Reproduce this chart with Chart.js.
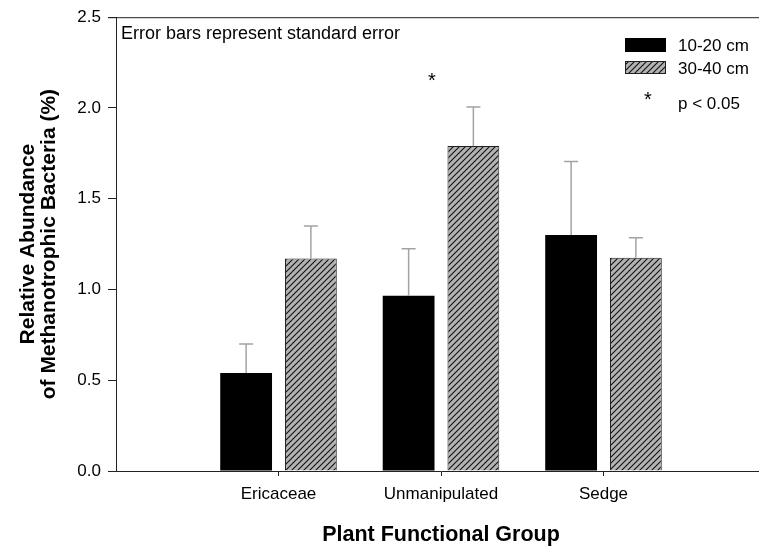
<!DOCTYPE html>
<html>
<head>
<meta charset="utf-8">
<script src="https://cdn.jsdelivr.net/npm/chart.js@4.4.1/dist/chart.umd.min.js"></script>
<style>
  html, body { margin: 0; padding: 0; background: #fff; overflow: hidden; }
  #wrap { position: relative; width: 790px; height: 553px; }
</style>
</head>
<body>
<div id="wrap"><canvas id="chart1"></canvas></div>
<script>
// plant functional groups on the x axis
const groups = ['Ericaceae', 'Unmanipulated', 'Sedge'];
// mean relative abundance (%) by depth
const shallow = [0.54, 0.965, 1.30];
const deep = [1.17, 1.79, 1.175];
// standard errors
const seShallow = [0.16, 0.26, 0.405];
const seDeep = [0.18, 0.215, 0.11];
// groups flagged p < 0.05
const significant = [false, true, false];
const yTicks = [0, 0.5, 1.0, 1.5, 2.0, 2.5];

const FONT = "'Liberation Sans', Arial, sans-serif";

// padded category list so the axis runs one slot past each side
const labels = [''].concat(groups, ['']);
const pad = arr => [null].concat(arr, [null]);

// grey fill with black diagonal hatching
function makeHatch() {
    const c = document.createElement('canvas');
    c.width = 6; c.height = 6;
    const g = c.getContext('2d');
    g.fillStyle = '#b3b3b3';
    g.fillRect(0, 0, 6, 6);
    g.strokeStyle = '#111';
    g.lineWidth = 1.1;
    g.beginPath();
    g.moveTo(-1, 7); g.lineTo(7, -1);
    g.moveTo(-1, 1); g.lineTo(1, -1);
    g.moveTo(5, 7); g.lineTo(7, 5);
    g.stroke();
    return g.createPattern(c, 'repeat');
}
const hatch = makeHatch();

const decorations = {
    id: 'decorations',
    afterDatasetsDraw(chart) {
        const ctx = chart.ctx;
        const area = chart.chartArea;
        const y = chart.scales.y;
        const errs = [seShallow, seDeep];
        const means = [shallow, deep];

        ctx.save();
        // top frame line
        ctx.strokeStyle = '#222';
        ctx.lineWidth = 1;
        ctx.beginPath();
        ctx.moveTo(area.left - 8, area.top + 0.5);
        ctx.lineTo(area.right, area.top + 0.5);
        ctx.stroke();

        // error bars (upper side only)
        ctx.strokeStyle = '#a3a3a3';
        ctx.lineWidth = 1.5;
        [0, 1].forEach(d => {
            const meta = chart.getDatasetMeta(d);
            groups.forEach((g, i) => {
                const bar = meta.data[i + 1];
                const top = y.getPixelForValue(means[d][i]);
                const cap = y.getPixelForValue(means[d][i] + errs[d][i]);
                ctx.beginPath();
                ctx.moveTo(bar.x, top);
                ctx.lineTo(bar.x, cap);
                ctx.moveTo(bar.x - 7, cap);
                ctx.lineTo(bar.x + 7, cap);
                ctx.stroke();
            });
        });

        // significance stars
        ctx.fillStyle = '#000';
        ctx.font = '20px ' + FONT;
        ctx.textAlign = 'center';
        ctx.textBaseline = 'middle';
        groups.forEach((g, i) => {
            if (!significant[i]) return;
            const x = chart.scales.x.getPixelForValue(i + 1) - 9;
            const top = Math.max(shallow[i] + seShallow[i], deep[i] + seDeep[i]);
            ctx.fillText('*', x, y.getPixelForValue(top) - 26);
        });

        // note and legend
        ctx.textAlign = 'left';
        ctx.font = '18px ' + FONT;
        ctx.fillText('Error bars represent standard error', area.left + 5, 34);

        ctx.font = '17px ' + FONT;
        ctx.fillStyle = '#000';
        ctx.fillRect(625, 38, 41, 14);
        ctx.fillText('10-20 cm', 678, 46);
        ctx.fillStyle = hatch;
        ctx.fillRect(625, 61, 41, 13);
        ctx.strokeStyle = '#222';
        ctx.lineWidth = 1;
        ctx.strokeRect(625.5, 61.5, 40, 12);
        ctx.fillStyle = '#000';
        ctx.fillText('30-40 cm', 678, 69);
        ctx.textAlign = 'center';
        ctx.font = '20px ' + FONT;
        ctx.fillText('*', 648, 100);
        ctx.textAlign = 'left';
        ctx.font = '17px ' + FONT;
        ctx.fillText('p < 0.05', 678, 104);
        ctx.restore();
    }
};

const ctx1 = document.getElementById('chart1').getContext('2d');
const chart1 = new Chart(ctx1, {
    type: 'bar',
    data: {
        labels: labels,
        datasets: [{
            label: '10-20 cm',
            data: pad(shallow),
            backgroundColor: '#000',
            borderWidth: 0,
            categoryPercentage: 0.797,
            barPercentage: 0.8
        }, {
            label: '30-40 cm',
            data: pad(deep),
            backgroundColor: hatch,
            borderColor: '#222',
            borderWidth: 1,
            borderSkipped: 'bottom',
            categoryPercentage: 0.797,
            barPercentage: 0.8
        }]
    },
    options: {
        responsive: true,
        maintainAspectRatio: false,
        animation: false,
        layout: { padding: { top: 17, right: 24, left: 0, bottom: 0 } },
        plugins: {
            legend: { display: false },
            tooltip: { enabled: false }
        },
        scales: {
            x: {
                offset: false,
                grid: {
                    offset: false,
                    drawOnChartArea: false,
                    tickLength: 5,
                    tickColor: c => (labels[c.index] ? '#222' : 'rgba(0,0,0,0)')
                },
                border: { color: '#222', width: 1 },
                ticks: {
                    color: '#000',
                    font: { family: FONT, size: 17 },
                    padding: 8,
                    maxRotation: 0,
                    autoSkip: false
                },
                title: {
                    display: true,
                    text: 'Plant Functional Group',
                    color: '#000',
                    font: { family: FONT, size: 21.5, weight: 'bold', lineHeight: 1 },
                    padding: { top: 0, bottom: 7 }
                },
                afterFit: s => { s.height = 82; }
            },
            y: {
                min: 0,
                max: 2.5,
                afterBuildTicks: s => { s.ticks = yTicks.map(v => ({ value: v })); },
                grid: {
                    drawOnChartArea: false,
                    tickLength: 8,
                    tickColor: '#222'
                },
                border: { color: '#222', width: 1 },
                ticks: {
                    color: '#000',
                    font: { family: FONT, size: 17 },
                    padding: 7,
                    callback: v => v.toFixed(1)
                },
                title: {
                    display: true,
                    text: ['Relative Abundance', 'of Methanotrophic Bacteria (%)'],
                    color: '#000',
                    font: { family: FONT, size: 21, weight: 'bold', lineHeight: 1 },
                    padding: { top: 18, bottom: 0 }
                },
                afterFit: s => { s.width = 116; }
            }
        }
    },
    plugins: [decorations]
});
</script>
</body>
</html>
